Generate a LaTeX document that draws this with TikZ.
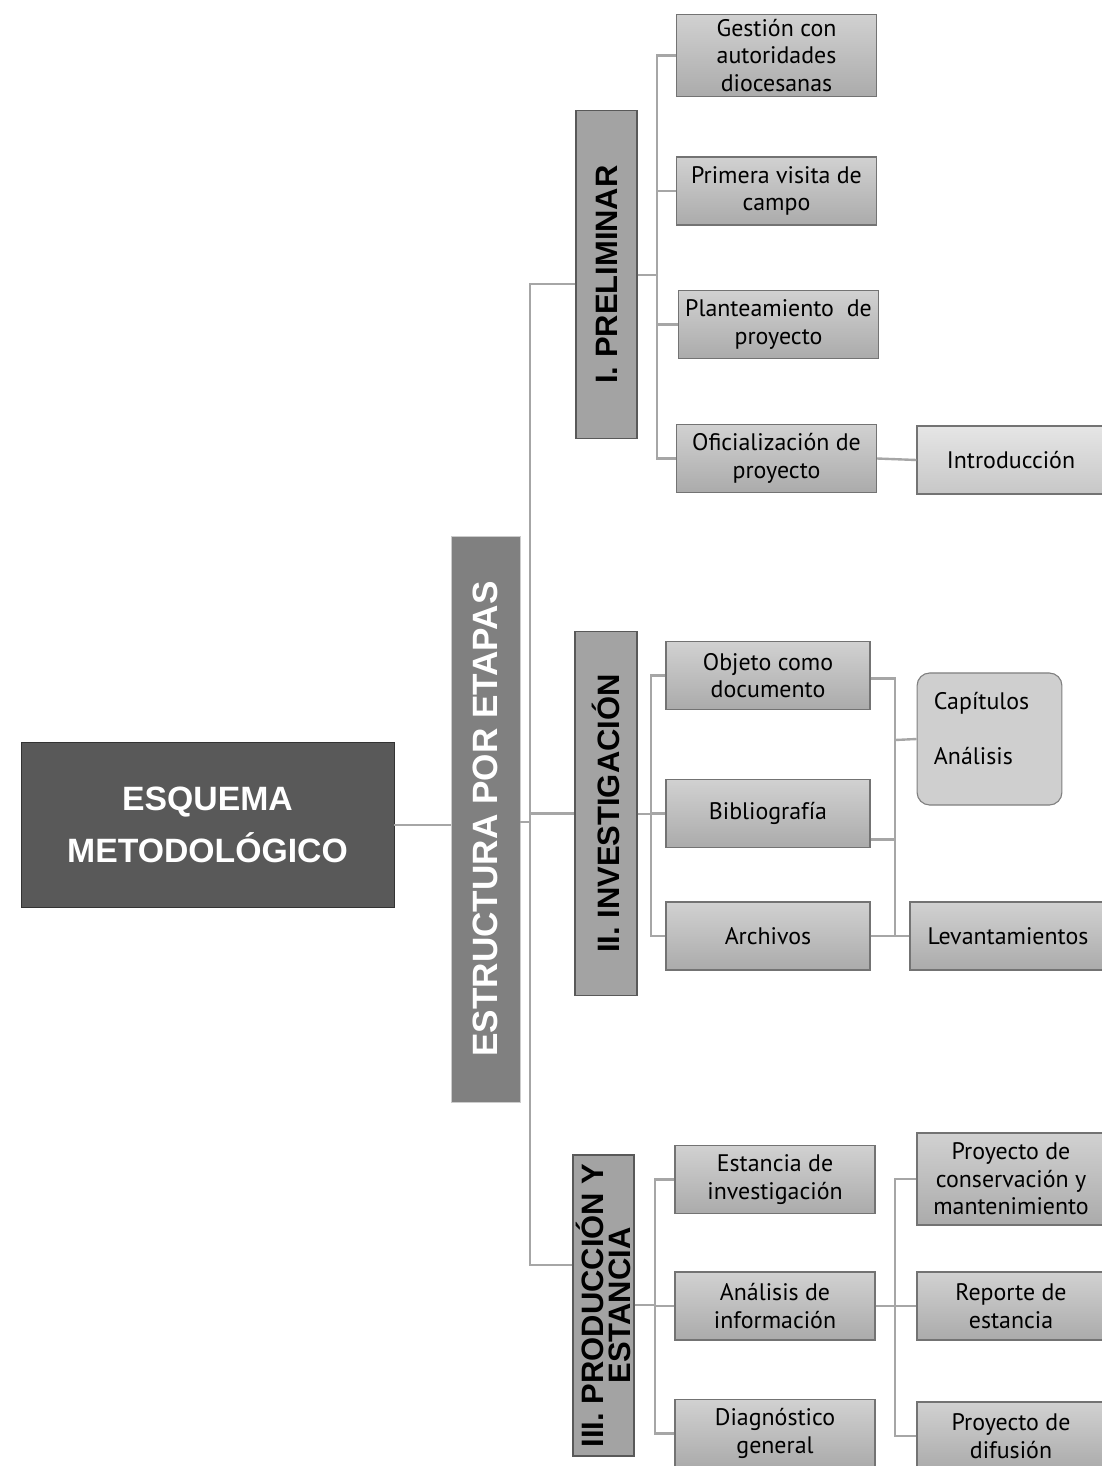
\documentclass[tikz,border=0pt]{standalone}
\usepackage{fontspec}
\setmainfont{PT Sans}
\newfontfamily\headfont{Liberation Sans}
\usetikzlibrary{positioning}

\definecolor{linkgray}{HTML}{A6A6A6}
\definecolor{headdark}{HTML}{595959}
\definecolor{headmid}{HTML}{808080}
\definecolor{stagegray}{HTML}{A3A3A3}

\tikzset{
  link/.style={draw=linkgray, line width=1.7pt},
  item/.style={draw=black!55, line width=0.8pt, top color=black!18, bottom color=black!33,
    minimum width=5cm, minimum height=1.7cm, align=center, inner sep=2pt,
    font=\fontsize{17}{19.5}\selectfont},
  itemlight/.style={item, top color=black!10, bottom color=black!22},
  stage/.style={draw=black!65, line width=0.9pt, fill=stagegray, rotate=90, align=center,
    font=\headfont\bfseries\fontsize{22}{19.5}\selectfont, inner sep=0pt}
}

\begin{document}
\begin{tikzpicture}[x=0.025cm, y=-0.025cm]
  \clip (0,0) rectangle (1102,1466);
  \fill[white] (0,0) rectangle (1102,1466);

  % main
  \node[fill=headdark, draw=black!80, minimum width=9.33cm, minimum height=4.12cm,
        text=white, align=center, font=\headfont\bfseries\fontsize{24}{37}\selectfont]
        (esq) at (207.5,825) {ESQUEMA\\METODOLÓGICO};
  \node[fill=headmid, draw=black!20, rotate=90, minimum width=14.15cm, minimum height=1.72cm,
        text=white, font=\headfont\bfseries\fontsize{25}{28}\selectfont]
        (etapas) at (485.5,819) {ESTRUCTURA POR ETAPAS};

  % stages
  \node[stage, minimum width=8.18cm, minimum height=1.52cm] (prel) at (606.5,274.5) {I. PRELIMINAR};
  \node[stage, minimum width=9.08cm, minimum height=1.55cm] (inv) at (606,813.5) {II. INVESTIGACIÓN};
  \node[stage, minimum width=7.52cm, minimum height=1.52cm] (prod) at (603.5,1305.5) {III. PRODUCCIÓN Y\\ESTANCIA};

  % I. preliminar
  \node[item, minimum height=2.07cm] (gest) at (776.5,55.5) {Gestión con\\autoridades\\diocesanas};
  \node[item] (prim) at (776.5,191) {Primera visita de\\campo};
  \node[item] (plan) at (778.5,324.5) {Planteamiento~~de\\proyecto};
  \node[item] (ofic) at (776.5,458.5) {Oficialización de\\proyecto};
  \node[itemlight, minimum width=4.7cm] (intro) at (1011,460) {Introducción};

  % II. investigacion
  \node[item, minimum width=5.1cm] (obj) at (768,675.5) {Objeto como\\documento};
  \node[item, minimum width=5.1cm] (bib) at (768,813.5) {Bibliografía};
  \node[item, minimum width=5.1cm] (arch) at (768,936) {Archivos};
  \node[draw=black!50, line width=0.8pt, rounded corners=9pt, fill=black!19,
        minimum width=3.62cm, minimum height=3.3cm] (cap) at (989.5,739) {};
  \node[anchor=west, font=\fontsize{17}{19.5}\selectfont] (capa) at (929,703) {Capítulos};
  \node[anchor=west, font=\fontsize{17}{19.5}\selectfont] (ana) at (929,756) {Análisis};
  \node[item, minimum width=4.9cm] (lev) at (1008,936) {Levantamientos};

  % III. produccion
  \node[item] (est) at (775,1179.5) {Estancia de\\investigación};
  \node[item] (anal) at (775,1306) {Análisis de\\información};
  \node[item] (diag) at (775,1433.5) {Diagnóstico\\general};
  \node[item, minimum width=4.7cm, minimum height=2.3cm] (cons) at (1011,1179) {Proyecto de\\conservación y\\mantenimiento};
  \node[item, minimum width=4.7cm] (rep) at (1011,1306) {Reporte de\\estancia};
  \node[item, minimum width=4.7cm] (dif) at (1011,1436) {Proyecto de\\difusión};

  % connectors
  \coordinate (trunk) at (530,822);
  \coordinate (t1) at (530,284);
  \coordinate (t3) at (530,1265);
  \coordinate (b1) at (657,275);
  \coordinate (b2) at (651,814);
  \coordinate (b3) at (655,1305);
  \coordinate (r2) at (895,740);
  \coordinate (r3) at (895,1306);

  \draw[link] (esq.east) -- (esq.east -| etapas.north);
  \draw[link] (etapas.south |- trunk) -- (trunk);
  \draw[link] (prel.north |- t1) -- (t1) -- (t3) -- (prod.north |- t3);
  \draw[link] (trunk) |- (inv.north);

  \draw[link] (prel.south |- b1) -- (b1);
  \foreach \n in {gest,prim,plan,ofic} \draw[link] (\n.west) -| (b1);
  \draw[link] (ofic.east) -- (intro.west);

  \draw[link] (inv.south |- b2) -- (b2);
  \foreach \n in {obj,bib,arch} \draw[link] (\n.west) -| (b2);
  \draw[link] ([yshift=-0.07cm]obj.east) -| (lev.west -| r2);
  \draw[link] ([yshift=-0.65cm]bib.east) -| (r2);
  \draw[link] (r2) -- (cap.west);
  \draw[link] (arch.east) -- (lev.west);

  \draw[link] (prod.south |- b3) -- (b3);
  \foreach \n in {est,anal,diag} \draw[link] (\n.west) -| (b3);
  \draw[link] (anal.east) -- (rep.west);
  \foreach \n in {cons,dif} \draw[link] (\n.west) -| (r3);
\end{tikzpicture}
\end{document}
